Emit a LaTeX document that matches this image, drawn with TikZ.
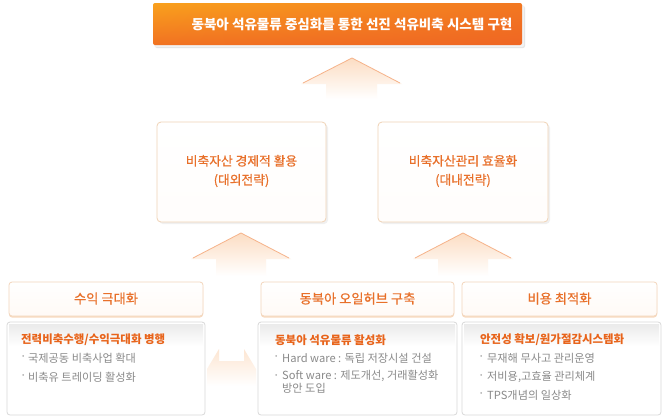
\documentclass[tikz,border=0pt]{standalone}
\usepackage{fontspec}
\setmainfont{Noto Sans CJK KR}
\newfontfamily\medfont[FakeBold=0.6]{Noto Sans CJK KR}
\usetikzlibrary{shadows,shadings}
\definecolor{orgtxt}{HTML}{E8702A}
\definecolor{orgtitle}{HTML}{E8641B}
\definecolor{graytxt}{HTML}{8A8A8A}
\definecolor{bannerA}{HTML}{F9A11D}
\definecolor{bannerB}{HTML}{EF6623}
\definecolor{peach}{HTML}{FCDDC3}
\definecolor{peachline}{HTML}{F6B38A}
\definecolor{midborder}{HTML}{F0D3B6}
\definecolor{hdrborder}{HTML}{F3D6BC}
\definecolor{hdrbottom}{HTML}{F4C195}
\definecolor{cntborder}{HTML}{D9D9D9}
\tikzset{
  midbox/.style={draw=midborder, line width=0.8bp, rounded corners=4bp, top color=white, bottom color=white!94!peach},
  hdrbox/.style={draw=hdrborder, line width=0.8bp, rounded corners=3bp, top color=white, bottom color=white!85!peach},
  cntbox/.style={draw=cntborder, line width=0.8bp, rounded corners=3bp, fill=white},
  midtext/.style={text=orgtxt, font=\medfont\fontsize{12.8}{19}\selectfont, align=center},
  hdrtext/.style={text=orgtxt, font=\medfont\fontsize{13.3}{15}\selectfont},
  ctitle/.style={text=orgtitle, font=\bfseries\fontsize{11.5}{13}\selectfont, anchor=west, inner sep=0},
  citem/.style={text=graytxt, font=\fontsize{11.2}{13.5}\selectfont, anchor=west, inner sep=0},
  dotb/.style={text=cntborder!80!black, font=\fontsize{7}{8}\selectfont, anchor=west, inner sep=0},
  uparrow/.style={top color=peach, bottom color=white, draw=none},
}
\begin{document}
\begin{tikzpicture}[x=1bp,y=-1bp]
\useasboundingbox (0,0) rectangle (662,417);
\fill[white] (0,0) rectangle (662,417);

% banner
\fill[black!10, rounded corners=2bp] (155,6) rectangle (525,48);
\fill[black!5, rounded corners=2bp] (154,5) rectangle (524,47);
\shade[rounded corners=2bp, upper left=bannerA, upper right=bannerB!70!bannerA, lower left=bannerB!80!bannerA, lower right=bannerB]
  (153,3) rectangle (522,45);
\node[text=white, font=\bfseries\fontsize{13.6}{15}\selectfont] (banner) at (352,24) {동북아 석유물류 중심화를 통한 선진 석유비축 시스템 구현};

% top arrow
\shade[uparrow] (352,58) -- (402,84) -- (377,84) -- (377,99) -- (326,99) -- (326,84) -- (301,84) -- cycle;
\draw[peachline, line width=0.8bp] (303,83) -- (352,58) -- (400,83);

% middle boxes
\fill[black!6, rounded corners=4bp] (159,124) rectangle (328,224);
\fill[black!6, rounded corners=4bp] (380,124) rectangle (550,224);
\draw[midbox] (157,122) rectangle (326,222);
\draw[midbox] (378,122) rectangle (548,222);
\node[midtext] (m1) at (241.5,171) {비축자산 경제적 활용\\(대외전략)};
\node[midtext] (m2) at (463,171) {비축자산관리 효율화\\(대내전략)};

% lower up arrows
\shade[uparrow] (241,233) -- (291,259) -- (266,259) -- (266,276) -- (216,276) -- (216,259) -- (191,259) -- cycle;
\draw[peachline, line width=0.8bp] (193,258) -- (241,233) -- (289,258);
\shade[uparrow] (463,233) -- (513,259) -- (488,259) -- (488,276) -- (438,276) -- (438,259) -- (413,259) -- cycle;
\draw[peachline, line width=0.8bp] (415,258) -- (463,233) -- (511,258);

% header boxes
\foreach \a/\b in {9/203, 261/454, 462/657}{
  \fill[hdrbottom!60, rounded corners=3bp] (\a,284) rectangle (\b,317.5);
  \draw[hdrbox] (\a,282) rectangle (\b,316);
}
\node[hdrtext] (h1) at (106,298.5) {수익 극대화};
\node[hdrtext] (h2) at (357.5,298.5) {동북아 오일허브 구축};
\node[hdrtext] (h3) at (559.5,298.5) {비용 최적화};

% content boxes
\foreach \a/\b in {7/205, 258/457, 462/661}{
  \draw[cntbox] (\a,322) rectangle (\b,415);
  \shade[top color=black!8, bottom color=white] (\a+2,324) rectangle (\b-2,346);
}

% double arrow between left and middle content
\shade[top color=peach!75, bottom color=white] (219,349) -- (219,361) -- (244,361) -- (244,349) -- (256,369) -- (256,386) -- (207,386) -- (207,369) -- cycle;

% left content
\node[ctitle] (t1) at (21,340) {전력비축수행/수익극대화 병행};
\node[dotb] at (22,357) {•};
\node[citem] (l1) at (28,358) {국제공동 비축사업 확대};
\node[dotb] at (22,376) {•};
\node[citem] (l2) at (28,377) {비축유 트레이딩 활성화};

% middle content
\node[ctitle] (t2) at (275,340) {동북아 석유물류 활성화};
\node[dotb] at (275,357) {•};
\node[citem] (c1) at (282,358) {Hard ware : 독립 저장시설 건설};
\node[dotb] at (275,376) {•};
\node[citem, align=left, anchor=north west] (c2) at (282,369.5) {Soft ware : 제도개선, 거래활성화\\방안 도입};

% right content
\node[ctitle] (t3) at (480,340) {안전성 확보/원가절감시스템화};
\node[dotb] at (480,357) {•};
\node[citem] (r1) at (487,358) {무재해 무사고 관리운영};
\node[dotb] at (480,376) {•};
\node[citem] (r2) at (487,377) {저비용,고효율 관리체계};
\node[dotb] at (480,394) {•};
\node[citem] (r3) at (487,395) {TPS개념의 일상화};
\end{tikzpicture}
\end{document}
